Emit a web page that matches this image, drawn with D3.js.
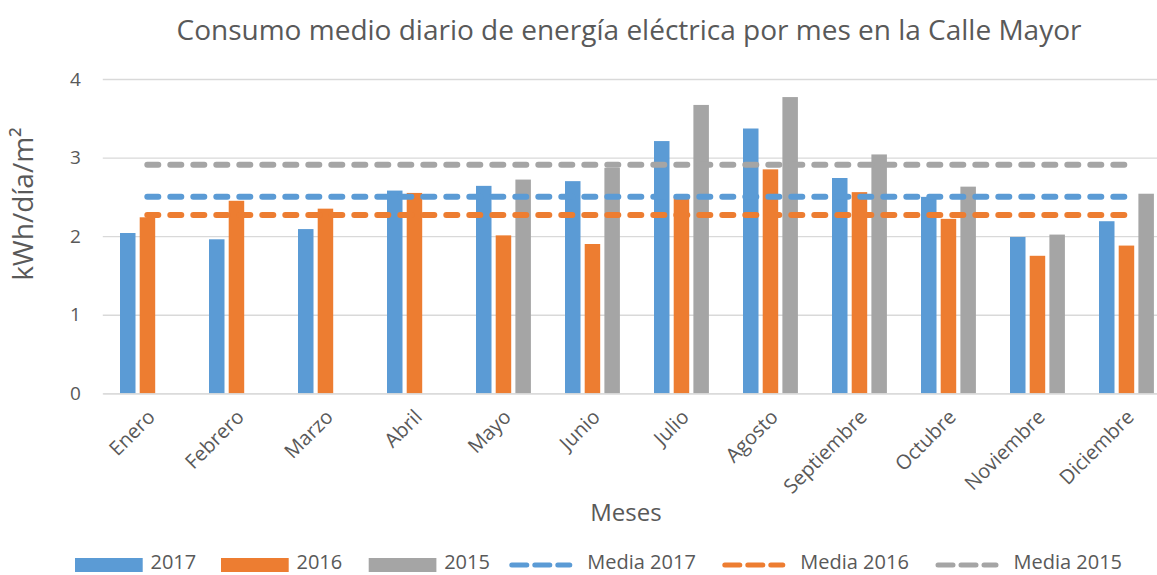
<!DOCTYPE html>
<html>
<head>
<meta charset="utf-8">
<script src="https://cdn.jsdelivr.net/npm/d3@7"></script>
<style>
  body { margin: 0; background: #fff; }
  text { font-family: "Open Sans", sans-serif; fill: #595959; }
</style>
</head>
<body>
<div id="chart"></div>
<script>
// datos
let meses = ['Enero', 'Febrero', 'Marzo', 'Abril', 'Mayo', 'Junio', 'Julio', 'Agosto', 'Septiembre', 'Octubre', 'Noviembre', 'Diciembre'];
let series = ['2017', '2016', '2015'];
let v2017 = [2.04, 1.96, 2.09, 2.58, 2.64, 2.70, 3.21, 3.37, 2.74, 2.50, 1.99, 2.19];
let v2016 = [2.24, 2.45, 2.35, 2.55, 2.01, 1.90, 2.50, 2.85, 2.56, 2.22, 1.75, 1.88];
let v2015 = [null, null, null, null, 2.72, 2.87, 3.67, 3.77, 3.04, 2.63, 2.02, 2.54];
let medias = [2.50, 2.27, 2.91];
let yTicks = [0, 1, 2, 3, 4];
let colores = ['#5b9bd5', '#ed7d31', '#a5a5a5'];

let svgAttr = {width: 1157, height: 575};
let plot = {left: 102.8, right: 1170.8, top: 79, bottom: 393.3};

let svg = d3.select('#chart').append('svg')
    .attr('width', svgAttr.width).attr('height', svgAttr.height);

let x0 = d3.scaleBand().domain(meses).range([plot.left, plot.right]);
let x1 = d3.scaleBand().domain(series).range([17.2, 72.1]).paddingInner(0.213);
let y = d3.scaleLinear().domain([0, 4]).range([plot.bottom, plot.top]);

// titulo
svg.append('text').attr('x', 629).attr('y', 40).attr('text-anchor', 'middle')
    .attr('font-size', '28px').text('Consumo medio diario de energía eléctrica por mes en la Calle Mayor');

// rejilla
let yAxis = d3.axisLeft(y).tickValues(yTicks).tickFormat(d3.format('d'))
    .tickSize(-(plot.right - plot.left)).tickPadding(22);
let gy = svg.append('g').attr('transform', 'translate(' + plot.left + ',0)').call(yAxis);
gy.select('.domain').remove();
gy.selectAll('line').attr('stroke', '#d9d9d9').attr('stroke-width', 1.3);
gy.selectAll('text').attr('font-size', '19px').style('fill', '#595959').attr('font-family', '"Open Sans", sans-serif');

// barras
let valores = [v2017, v2016, v2015];
series.forEach(function (s, k) {
    let datos = valores[k].map(function (v, i) { return {mes: meses[i], v: v}; })
        .filter(function (d) { return d.v != null; });
    svg.append('g').selectAll('rect').data(datos).enter().append('rect')
        .attr('x', function (d) { return x0(d.mes) + x1(s); })
        .attr('y', function (d) { return y(d.v); })
        .attr('width', x1.bandwidth())
        .attr('height', function (d) { return y(0) - y(d.v); })
        .attr('fill', colores[k]);
});

// eje x
let xAxis = d3.axisBottom(x0).tickSize(0).tickPadding(0);
let gx = svg.append('g').attr('transform', 'translate(0,' + plot.bottom + ')').call(xAxis);
gx.select('.domain').attr('stroke', '#d9d9d9').attr('stroke-width', 1.3);
gx.selectAll('text').attr('font-size', '20px').style('fill', '#595959')
    .attr('font-family', '"Open Sans", sans-serif')
    .attr('text-anchor', 'end').attr('dy', null).attr('y', 0)
    .attr('transform', 'translate(9,25) rotate(-45)');

// lineas de media
let linea = d3.line().x(function (d) { return x0(d) + x0.bandwidth() / 2; });
medias.forEach(function (m, k) {
    svg.append('path').datum(meses)
        .attr('d', linea.y(function () { return y(m); }))
        .attr('fill', 'none').attr('stroke', colores[k]).attr('stroke-width', 6)
        .attr('stroke-linecap', 'round').attr('stroke-dasharray', '11,12');
});

// titulos de ejes
svg.append('text').attr('transform', 'translate(33,204) rotate(-90)').attr('text-anchor', 'middle')
    .attr('font-size', '28px').text('kWh/día/m²');
svg.append('text').attr('x', 626).attr('y', 521).attr('text-anchor', 'middle')
    .attr('font-size', '24px').text('Meses');

// leyenda
let leyenda = svg.append('g');
let rectX = [75, 221, 368.7];
series.forEach(function (s, k) {
    leyenda.append('rect').attr('x', rectX[k]).attr('y', 558).attr('width', 67.7).attr('height', 14).attr('fill', colores[k]);
    leyenda.append('text').attr('x', rectX[k] + 75.5).attr('y', 569).attr('font-size', '20px').text(s);
});
let lineX = [511.8, 724.8, 938];
series.forEach(function (s, k) {
    leyenda.append('line').attr('x1', lineX[k]).attr('x2', lineX[k] + 58).attr('y1', 565).attr('y2', 565)
        .attr('stroke', colores[k]).attr('stroke-width', 5).attr('stroke-linecap', 'round').attr('stroke-dasharray', '15,8');
    leyenda.append('text').attr('x', lineX[k] + 75.5).attr('y', 569).attr('font-size', '20px').text('Media ' + s);
});
</script>
</body>
</html>
